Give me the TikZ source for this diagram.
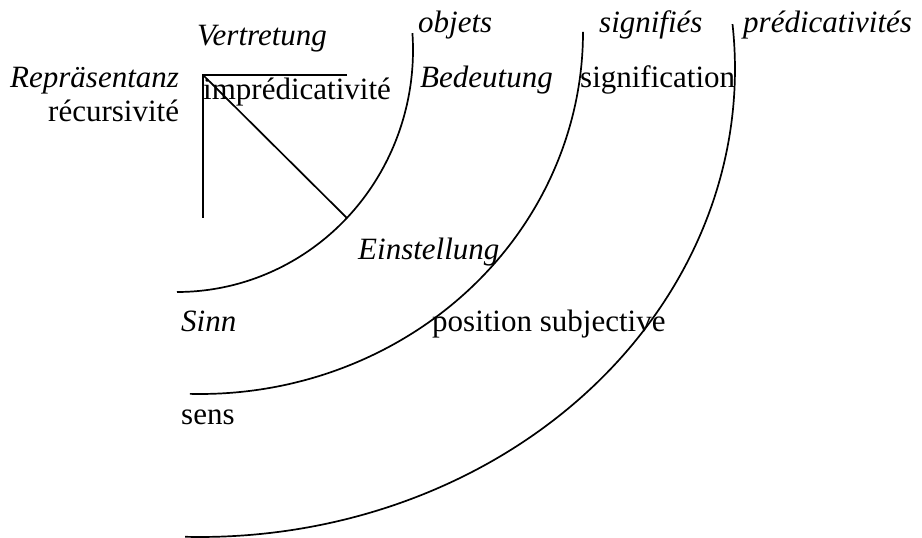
\documentclass[tikz,border=0pt]{standalone}
\usepackage{fontspec}
\setmainfont{Liberation Serif}
\begin{document}
\begin{tikzpicture}[x=1pt,y=1pt,
  lbl/.style={anchor=base west, inner sep=0pt, font=\fontsize{31}{36}\selectfont},
  ilbl/.style={lbl, font=\fontsize{31}{36}\selectfont\itshape},
  stroke/.style={line width=1.7pt, black}]
\useasboundingbox (0,0) rectangle (922,538);
% arc centres
\coordinate (c1) at (177,488);
\coordinate (c2) at (200,506);
\coordinate (c3) at (200,469);
% triangle corner lines
\coordinate (corner) at (203,463);
\coordinate (hend) at (347,463);
\coordinate (vend) at (203,320);
\coordinate (dend) at ([shift={(-43.96:236pt and 242pt)}]c1);
\draw[stroke] (hend) -- (corner) -- (vend);
\draw[stroke] (corner) -- (dend);
% arcs
\draw[stroke] ([shift={(-90:236pt and 242pt)}]c1) arc[start angle=-90, end angle=4, x radius=236pt, y radius=242pt];
\draw[stroke] ([shift={(-91.5:383pt and 362pt)}]c2) arc[start angle=-91.5, end angle=0, x radius=383pt, y radius=362pt];
\draw[stroke] ([shift={(-91.6:535pt and 468pt)}]c3) arc[start angle=-91.6, end angle=5.5, x radius=535pt, y radius=468pt];
% labels
\node[ilbl] (vertretung) at (197,492) {Vertretung};
\node[ilbl] (objets) at (418,505) {objets};
\node[ilbl] (signifies) at (599,505) {signifiés};
\node[ilbl] (predicativites) at (743,505) {prédicativités};
\node[ilbl] (reprasentanz) at (10,450) {Repräsentanz};
\node[lbl] (recursivite) at (48,416) {récursivité};
\node[lbl] (impredicativite) at (203,438) {imprédicativité};
\node[ilbl] (bedeutung) at (420,450) {Bedeutung};
\node[lbl] (signification) at (580,450) {signification};
\node[ilbl] (einstellung) at (358,278) {Einstellung};
\node[ilbl] (sinn) at (181,206) {Sinn};
\node[lbl] (position) at (432,206) {position subjective};
\node[lbl] (sens) at (181,113) {sens};
\end{tikzpicture}
\end{document}
